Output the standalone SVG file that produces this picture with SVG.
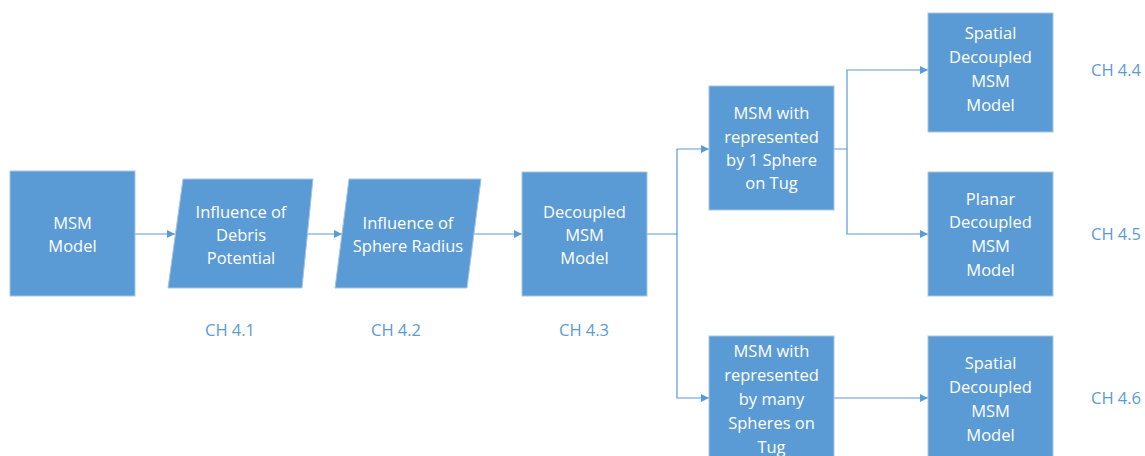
<svg xmlns="http://www.w3.org/2000/svg" width="1145" height="456" viewBox="0 0 1145 456">
<defs>
<marker id="ah" viewBox="0 0 10 10" refX="10" refY="5" markerWidth="8" markerHeight="8" markerUnits="userSpaceOnUse" orient="auto">
<path d="M0,0 L10,5 L0,10 z" fill="#5B9BD5"/>
</marker>
<style>
.n{fill:#5B9BD5;stroke:#A7C4E3;stroke-width:1}
.t{font-family:"Open Sans","Liberation Sans",Arial,sans-serif;font-size:16.5px;fill:#ffffff;text-anchor:middle}
.ch{font-family:"Open Sans","Liberation Sans",Arial,sans-serif;font-size:16.5px;fill:#5B9BD5}
.c{fill:none;stroke:#5B9BD5;stroke-width:1.2}
</style>
</defs>
<rect width="1145" height="456" fill="#ffffff"/>
<g id="connectors">
<path class="c" d="M135,234 H175" marker-end="url(#ah)"/>
<path class="c" d="M307,234 H342" marker-end="url(#ah)"/>
<path class="c" d="M474,234 H522" marker-end="url(#ah)"/>
<path class="c" d="M647,234 H677 V149 H709" marker-end="url(#ah)"/>
<path class="c" d="M677,234 V398 H709" marker-end="url(#ah)"/>
<path class="c" d="M834,149 H847 V70 H928" marker-end="url(#ah)"/>
<path class="c" d="M847,149 V234 H928" marker-end="url(#ah)"/>
<path class="c" d="M834,398 H928" marker-end="url(#ah)"/>
</g>
<g id="msm-model">
<rect class="n" x="10" y="171" width="125" height="125"/>
<text class="t" x="72.5" y="229">MSM</text>
<text class="t" x="72.5" y="252">Model</text>
</g>
<g id="debris-potential">
<polygon class="n" points="183,179 313,179 302,288 168,288"/>
<text class="t" x="241" y="218">Influence of</text>
<text class="t" x="241" y="241">Debris</text>
<text class="t" x="241" y="264">Potential</text>
</g>
<g id="sphere-radius">
<polygon class="n" points="349,179 481,179 467,288 335,288"/>
<text class="t" x="408" y="229">Influence of</text>
<text class="t" x="408" y="252">Sphere Radius</text>
</g>
<g id="decoupled">
<rect class="n" x="522" y="172" width="125" height="124"/>
<text class="t" x="584.5" y="218">Decoupled</text>
<text class="t" x="584.5" y="241">MSM</text>
<text class="t" x="584.5" y="264">Model</text>
</g>
<g id="one-sphere">
<rect class="n" x="709" y="86" width="125" height="124"/>
<text class="t" x="771.5" y="119">MSM with</text>
<text class="t" x="771.5" y="143">represented</text>
<text class="t" x="771.5" y="166">by 1 Sphere</text>
<text class="t" x="771.5" y="189">on Tug</text>
</g>
<g id="many-spheres">
<rect class="n" x="709" y="336" width="125" height="130"/>
<text class="t" x="771.5" y="357">MSM with</text>
<text class="t" x="771.5" y="381">represented</text>
<text class="t" x="771.5" y="405">by many</text>
<text class="t" x="771.5" y="429">Spheres on</text>
<text class="t" x="771.5" y="453">Tug</text>
</g>
<g id="spatial-1">
<rect class="n" x="928" y="13" width="125" height="119"/>
<text class="t" x="990.5" y="39">Spatial</text>
<text class="t" x="990.5" y="63">Decoupled</text>
<text class="t" x="990.5" y="87">MSM</text>
<text class="t" x="990.5" y="111">Model</text>
</g>
<g id="planar">
<rect class="n" x="928" y="172" width="125" height="124"/>
<text class="t" x="990.5" y="205">Planar</text>
<text class="t" x="990.5" y="228">Decoupled</text>
<text class="t" x="990.5" y="252">MSM</text>
<text class="t" x="990.5" y="276">Model</text>
</g>
<g id="spatial-2">
<rect class="n" x="928" y="336" width="125" height="130"/>
<text class="t" x="990.5" y="369">Spatial</text>
<text class="t" x="990.5" y="393">Decoupled</text>
<text class="t" x="990.5" y="417">MSM</text>
<text class="t" x="990.5" y="441">Model</text>
</g>
<g id="chapter-labels">
<text class="ch" x="205" y="336">CH 4.1</text>
<text class="ch" x="371" y="336">CH 4.2</text>
<text class="ch" x="559" y="336">CH 4.3</text>
<text class="ch" x="1091" y="76">CH 4.4</text>
<text class="ch" x="1091" y="240">CH 4.5</text>
<text class="ch" x="1091" y="404">CH 4.6</text>
</g>
</svg>
